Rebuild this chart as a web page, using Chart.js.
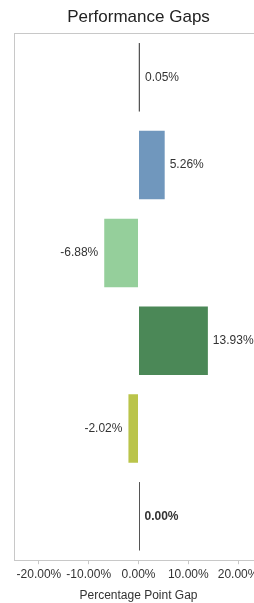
<!DOCTYPE html>
<html>
<head>
<meta charset="utf-8">
<script src="https://cdn.jsdelivr.net/npm/chart.js@4.4.1/dist/chart.umd.min.js"></script>
<style>
  html, body { margin: 0; padding: 0; background: #fff; overflow: hidden; }
  #wrap { position: relative; width: 263px; height: 603px; }
</style>
</head>
<body>
<div id="wrap"><canvas id="c"></canvas></div>
<script>
const categories = ["Group A", "Group B", "Group C", "Group D", "Group E", "Group F"];
const gaps = [0.05, 5.26, -6.88, 13.93, -2.02, 0.00];
const barColors = ["#555555", "#7097bd", "#95cf9b", "#4b8857", "#bac44a", "#555555"];
const boldLabels = [false, false, false, false, false, true];
const xTickValues = [-20, -10, 0, 10, 20];

const fmt = v => v.toFixed(2) + "%";

const barExtras = {
  id: "barExtras",
  afterDatasetsDraw(chart) {
    const ctx = chart.ctx;
    const meta = chart.getDatasetMeta(0);
    ctx.save();
    meta.data.forEach((el, i) => {
      const v = gaps[i];
      const h = el.height;
      if (Math.abs(el.x - el.base) < 1.5) {
        ctx.strokeStyle = "#555";
        ctx.lineWidth = 1;
        ctx.beginPath();
        const xx = Math.round(el.base) + 0.5;
        ctx.moveTo(xx, el.y - h / 2);
        ctx.lineTo(xx, el.y + h / 2);
        ctx.stroke();
      }
      ctx.font = (boldLabels[i] ? "bold " : "") + "12px 'Liberation Sans', Arial, sans-serif";
      ctx.fillStyle = "#333";
      ctx.textBaseline = "middle";
      const end = Math.max(el.x, el.base);
      const start = Math.min(el.x, el.base);
      if (v >= 0) {
        ctx.textAlign = "left";
        ctx.fillText(fmt(v), Math.max(end, el.base + 1) + 5, el.y);
      } else {
        ctx.textAlign = "right";
        ctx.fillText(fmt(v), start - 6, el.y);
      }
    });
    ctx.restore();
  }
};

new Chart(document.getElementById("c"), {
  type: "bar",
  data: {
    labels: categories,
    datasets: [{
      data: gaps,
      backgroundColor: barColors,
      borderWidth: 0,
      barPercentage: 0.78,
      categoryPercentage: 1.0
    }]
  },
  options: {
    indexAxis: "y",
    responsive: true,
    maintainAspectRatio: false,
    animation: false,
    layout: { padding: { left: 14, right: 0, top: 0, bottom: 0 } },
    plugins: {
      legend: { display: false },
      tooltip: { enabled: false },
      title: {
        display: true,
        text: "Performance Gaps",
        fullSize: false,
        color: "#222",
        font: { family: "'Liberation Sans', Arial, sans-serif", size: 17, weight: "normal" },
        padding: { top: 7, bottom: 6 }
      }
    },
    scales: {
      x: {
        type: "linear",
        min: -25,
        max: 25,
        afterBuildTicks: s => { s.ticks = xTickValues.map(v => ({ value: v })); },
        grid: { drawOnChartArea: false, drawTicks: true, tickLength: 4, color: "#c8c8c8" },
        border: { display: true, color: "#c8c8c8" },
        ticks: {
          color: "#333",
          padding: 3,
          maxRotation: 0,
          autoSkip: false,
          font: { family: "'Liberation Sans', Arial, sans-serif", size: 12 },
          callback: v => Number(v).toFixed(2) + "%"
        },
        title: {
          display: true,
          text: "Percentage Point Gap",
          color: "#333",
          font: { family: "'Liberation Sans', Arial, sans-serif", size: 12 },
          padding: { top: 4, bottom: 0 }
        }
      },
      x2: {
        type: "linear",
        position: "top",
        min: -25,
        max: 25,
        grid: { drawOnChartArea: false, drawTicks: false },
        border: { display: true, color: "#c8c8c8" },
        ticks: { display: false }
      },
      y: {
        grid: { drawOnChartArea: false, drawTicks: false },
        border: { display: true, color: "#c8c8c8" },
        ticks: { display: false }
      }
    }
  },
  plugins: [barExtras]
});
</script>
</body>
</html>
